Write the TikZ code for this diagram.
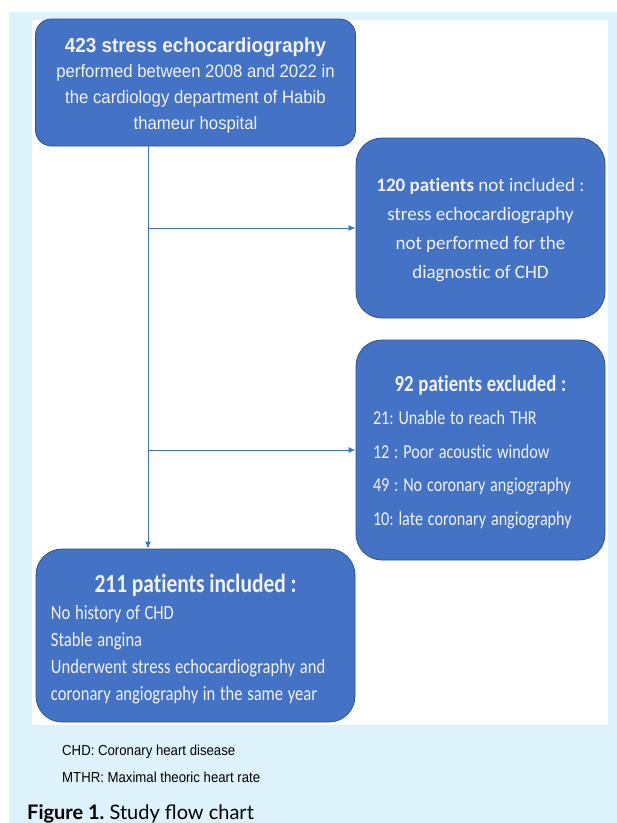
\documentclass[tikz,border=0pt]{standalone}
\usepackage{fontspec}
\setmainfont[Ligatures={NoCommon}]{Carlito}
\newfontfamily\condfont[FakeStretch=0.82,Ligatures={NoCommon}]{Carlito}
\newfontfamily\narrowfont[FakeStretch=0.93]{Liberation Sans}
\newfontfamily\arialfont[FakeStretch=0.91]{Liberation Sans}
\newfontfamily\capfont{Lato}
\newcommand\myspaceA{\spaceskip=4.8pt plus 1pt minus 0.5pt\relax}
\newcommand\myspaceB{\spaceskip=4.7pt plus 1pt minus 0.5pt\relax}
\usetikzlibrary{arrows.meta}
\definecolor{boxblue}{HTML}{4472C4}
\definecolor{boxedge}{HTML}{2F528F}
\definecolor{bgblue}{HTML}{DDF2FA}
\definecolor{txtwhite}{HTML}{F2F2F2}
\tikzset{
  box/.style={draw=boxedge, line width=0.8pt, fill=boxblue, text=txtwhite, inner sep=0pt},
  conn/.style={draw=boxblue, line width=0.9pt, -{Latex[length=7pt,width=6pt]}},
  note/.style={anchor=base west, inner sep=0pt, text=black}
}
\begin{document}
\frenchspacing
\begin{tikzpicture}[x=1pt,y=-1pt]
\useasboundingbox (0,0) rectangle (617,823);
\fill[white] (0,0) rectangle (617,823);
\fill[bgblue] (9,12) rectangle (617,823);
\fill[white] (32,20) rectangle (608,725);

\node[box, rounded corners=16pt, minimum width=320pt, minimum height=127pt, align=center,
      font=\narrowfont\fontsize{18}{25.7}\selectfont] (top) at (195.5,82.5)
  {\rule{0pt}{20pt}{\fontsize{20.3}{25.7}\selectfont\bfseries 423 stress echocardiography}\\
   performed between 2008 and 2022 in\\
   the cardiology department of Habib\\
   thameur hospital};

\node[box, rounded corners=26pt, minimum width=249pt, minimum height=180pt, align=center,
      font=\fontsize{19}{29}\selectfont] (notinc) at (480.5,228)
  {\rule{0pt}{17pt}\textbf{120 patients} not included :\\
   stress echocardiography\\
   not performed for the\\
   diagnostic of CHD};

\node[box, rounded corners=26pt, minimum width=249pt, minimum height=220pt, text width=215pt, align=left,
      font=\condfont\fontsize{19.7}{33.5}\selectfont] (exc) at (480.5,450)
  {\myspaceA\rule{0pt}{20pt}\makebox[\linewidth][c]{\fontsize{22.9}{24}\selectfont\bfseries 92 patients excluded :}\\
   21: Unable to reach THR\\
   12 : Poor acoustic window\\
   49 : No coronary angiography\\
   10: late coronary angiography};

\node[box, rounded corners=26pt, minimum width=319pt, minimum height=173pt, text width=289pt, align=left,
      font=\condfont\fontsize{20.2}{27}\selectfont] (inc) at (195.5,635.5)
  {\myspaceB\rule{0pt}{26pt}\makebox[\linewidth][c]{\fontsize{26.2}{27}\selectfont\bfseries 211 patients included :}\\
   No history of CHD\\
   Stable angina\\
   Underwent stress echocardiography and\\
   coronary angiography in the same year};

\coordinate (vx) at (148,0);
\draw[conn] (top.south -| vx) -- (inc.north -| vx);
\draw[conn] (vx |- notinc.west) -- (notinc.west);
\draw[conn] (vx |- exc.west) -- (exc.west);

\node[note, font=\arialfont\fontsize{14.5}{16}\selectfont] (n1) at (62,755) {CHD: Coronary heart disease};
\node[note, font=\arialfont\fontsize{14.5}{16}\selectfont] (n2) at (62,782) {MTHR: Maximal theoric heart rate};
\node[note, font=\capfont\fontsize{20}{24}\selectfont] (cap) at (27,819) {\textbf{Figure 1.} Study flow chart};
\end{tikzpicture}
\end{document}
